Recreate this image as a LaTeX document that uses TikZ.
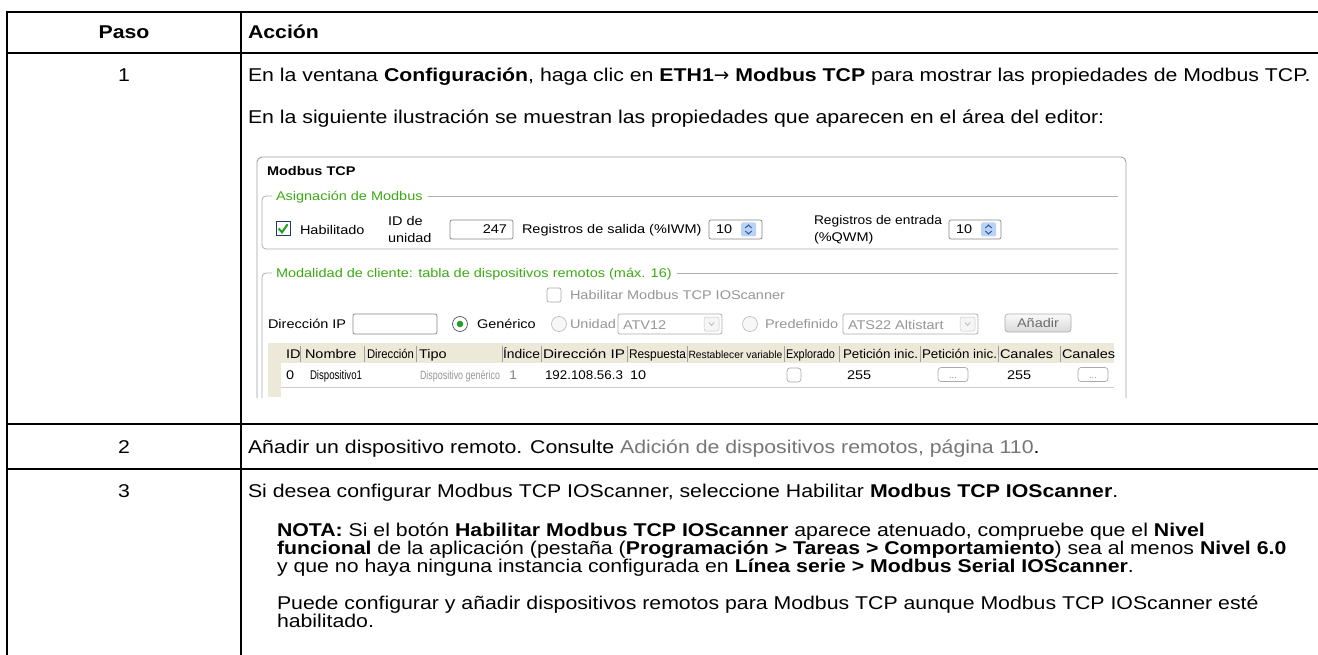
\documentclass[tikz,border=0pt]{standalone}
\usepackage{fontspec}
\setmainfont{Liberation Sans}[FakeStretch=1.15]
\newfontfamily\arrowf{DejaVu Sans}
\usepackage{graphicx}
\definecolor{grn}{RGB}{60,170,20}
\definecolor{chk}{RGB}{40,160,40}
\definecolor{lnk}{RGB}{118,118,118}
\definecolor{dis}{RGB}{150,150,150}
\definecolor{frm}{RGB}{160,160,160}
\definecolor{grp}{RGB}{175,175,175}
\definecolor{beige}{RGB}{236,233,216}
\definecolor{fld}{RGB}{135,135,135}
\definecolor{spinb}{RGB}{185,210,245}
\definecolor{spinf}{RGB}{40,80,160}
\definecolor{cbxb}{RGB}{30,60,110}
\newcommand\bodyf{\fontsize{18.5}{18}\selectfont}
\newcommand\shotf{\fontsize{12.6}{12}\selectfont}
\newcommand\fitw[2]{\resizebox{#1}{\height}{#2}}
\begin{document}
\begin{tikzpicture}[x=1pt,y=-1pt,
  tbl/.style={line width=2.3pt, black},
  body/.style={inner sep=0pt, outer sep=0pt, anchor=base west, font=\bodyf},
  bodyc/.style={inner sep=0pt, outer sep=0pt, anchor=base, font=\bodyf},
  shot/.style={inner sep=0pt, outer sep=0pt, anchor=base west, font=\shotf},
  shotc/.style={inner sep=0pt, outer sep=0pt, anchor=base, font=\shotf},
  grpline/.style={draw=grp, line width=0.8pt},
  fieldbox/.style={draw=fld, line width=0.7pt, fill=white, rounded corners=2pt},
  disbox/.style={draw=dis!80, line width=0.7pt, fill=white, rounded corners=2pt},
  sep/.style={draw=gray!75, line width=0.6pt},
  dd/.style={draw=gray!45, fill=gray!8, line width=0.5pt, rounded corners=2pt},
  spin/.style={fill=spinb, rounded corners=1.5pt},
  spinarr/.style={draw=spinf, line width=0.9pt},
  radiooff/.style={draw=gray!50, fill=gray!6, line width=0.7pt}]
\useasboundingbox (0,0) rectangle (1318,655);
\fill[white] (0,0) rectangle (1318,655);

% ---------- table rules ----------
\draw[tbl] (1318,12) -- (7,12) -- (7,655);
\draw[tbl] (241,12) -- (241,655);
\draw[tbl] (7,53) -- (1318,53);
\draw[tbl] (7,424) -- (1318,424);
\draw[tbl] (7,469) -- (1318,469);

% ---------- header ----------
\node[bodyc, font=\bodyf\bfseries] (hpaso) at (124,38.5) {Paso};
\node[body, font=\bodyf\bfseries] (hacc) at (248,38.5) {Acción};

% ---------- row 1 ----------
\node[bodyc] (n1) at (124,81.5) {1};
\node[body] (r1a) at (248,81.5) {En la ventana \textbf{Configuración}, haga clic en \textbf{ETH1}{\arrowf\fontsize{18.5}{18}\selectfont→} \textbf{Modbus TCP} para mostrar las propiedades de Modbus TCP.};
\node[body] (r1b) at (248,123.5) {En la siguiente ilustración se muestran las propiedades que aparecen en el área del editor:};

% ---------- screenshot ----------
\draw[draw=frm, line width=0.9pt, rounded corners=5pt] (257,398) -- (257,157) -- (1126,157) -- (1126,398);
\node[shot, font=\shotf\bfseries] (mt) at (267,175.5) {Modbus TCP};

% group 1
\node[shot, text=grn] (g1) at (276,200.5) {Asignación de Modbus};
\coordinate (g1e) at ([xshift=5pt]g1.east);
\draw[grpline, rounded corners=4pt] (272,196) -- (262,196) -- (262,249) -- (1118,249);
\draw[grpline] (g1e |- 0,196) -- (1118,196);

\draw[draw=cbxb, line width=1pt, fill=white] (276,221.5) rectangle (290,235.5);
\draw[draw=chk, line width=2.1pt] (278.6,228.5) -- (282,232.3) -- (287.6,224.3);
\node[shot] (hab) at (300,234.5) {Habilitado};
\node[shot] (idde) at (388,225.5) {ID de};
\node[shot] (unid) at (388,242.5) {unidad};
\draw[fieldbox] (450,220) rectangle (513,239);
\node[shot, anchor=base east] (v247) at (507,234) {247};
\node[shot] (regs) at (522,233.5) {Registros de salida (\%IWM)};
\draw[fieldbox] (709,220) rectangle (762,239);
\node[shot] (v10a) at (716,234) {10};
\fill[spin] (741,222.5) rectangle (756,236.5);
\draw[spinarr] (745.3,228) -- (748.5,225) -- (751.7,228);
\draw[spinarr] (745.3,231) -- (748.5,234) -- (751.7,231);
\node[shot] (rege1) at (814,224.5) {\fitw{128pt}{Registros de entrada}};
\node[shot] (rege2) at (814,241.5) {(\%QWM)};
\draw[fieldbox] (949,220) rectangle (1001,239);
\node[shot] (v10b) at (956,234) {10};
\fill[spin] (981,222.5) rectangle (996,236.5);
\draw[spinarr] (985.3,228) -- (988.5,225) -- (991.7,228);
\draw[spinarr] (985.3,231) -- (988.5,234) -- (991.7,231);

% group 2
\node[shot, text=grn] (g2) at (276,277.5) {Modalidad de cliente: tabla de dispositivos remotos (máx. 16)};
\coordinate (g2e) at ([xshift=5pt]g2.east);
\draw[grpline, rounded corners=4pt] (272,273) -- (262,273) -- (262,398);
\draw[grpline] (g2e |- 0,273) -- (1118,273);

\draw[disbox] (547,288) rectangle (561,302);
\node[shot, text=dis] (habio) at (570,299.5) {Habilitar Modbus TCP IOScanner};

\node[shot] (dirip) at (268,328.5) {Dirección IP};
\draw[fieldbox] (353,314) rectangle (437,334);
\draw[draw=gray!80!black, fill=white, line width=0.8pt] (460,324) circle[radius=7.5pt];
\fill[chk] (460,324) circle[radius=3.3pt];
\node[shot] (gen) at (477,328.5) {Genérico};
\draw[radiooff] (559,324) circle[radius=7.5pt];
\node[shot, text=dis] (unidad) at (570,328.5) {Unidad};
\draw[disbox] (618,314) rectangle (722,334);
\node[shot, text=dis] (atv) at (623,329) {ATV12};
\draw[dd] (704,317) rectangle (719,331);
\draw[draw=gray!60, line width=0.7pt] (708.8,322.5) -- (711.5,325.3) -- (714.2,322.5);
\draw[radiooff] (750,324) circle[radius=7.5pt];
\node[shot, text=dis] (pred) at (765,328.5) {Predefinido};
\draw[disbox] (843,314) rectangle (978,334);
\node[shot, text=dis] (ats) at (848,329) {ATS22 Altistart};
\draw[dd] (960,317) rectangle (975,331);
\draw[draw=gray!60, line width=0.7pt] (964.8,322.5) -- (967.5,325.3) -- (970.2,322.5);
\shade[top color=gray!4, bottom color=gray!30, rounded corners=3pt] (1005,314) rectangle (1071,332);
\draw[draw=gray!65, line width=0.7pt, rounded corners=3pt] (1005,314) rectangle (1071,332);
\node[shotc, text=gray!85!black] (anad) at (1038,327.5) {Añadir};

% device table
\fill[beige] (268,343) rectangle (1114,363);
\fill[beige] (268,343) rectangle (281,397);
\draw[draw=gray!40, line width=0.7pt] (281,387.5) -- (1114,387.5);
\node[shot] (hid) at (286,358.5) {ID};
\draw[sep] (300,346) -- (300,362);
\node[shot] (hnom) at (305,358.5) {Nombre};
\draw[sep] (364,346) -- (364,362);
\node[shot] (hdir) at (367,358.5) {\fitw{47pt}{Dirección}};
\draw[sep] (416,346) -- (416,362);
\node[shot] (htip) at (419,358.5) {Tipo};
\draw[sep] (502,346) -- (502,362);
\node[shot] (hind) at (503,358.5) {\fitw{37pt}{Índice}};
\draw[sep] (541,346) -- (541,362);
\node[shot] (hdip) at (543,358.5) {\fitw{82pt}{Dirección IP}};
\draw[sep] (627,346) -- (627,362);
\node[shot] (hres) at (629,358.5) {\fitw{57pt}{Respuesta}};
\draw[sep] (687,346) -- (687,362);
\node[shot, font=\fontsize{10.5}{10}\selectfont] (hrv) at (688.5,358) {\fitw{94pt}{Restablecer variable}};
\draw[sep] (784,346) -- (784,362);
\node[shot] (hexp) at (786,358.5) {\fitw{49pt}{Explorado}};
\draw[sep] (839,346) -- (839,362);
\node[shot] (hpi1) at (843,358.5) {\fitw{75pt}{Petición inic.}};
\draw[sep] (920,346) -- (920,362);
\node[shot] (hpi2) at (922,358.5) {\fitw{75pt}{Petición inic.}};
\draw[sep] (998,346) -- (998,362);
\node[shot] (hcan1) at (1000,358.5) {Canales};
\draw[sep] (1060,346) -- (1060,362);
\node[shot] (hcan2) at (1062,358.5) {Canales};

\node[shot] (d0) at (286,379.5) {0};
\node[shot, font=\fontsize{12.6}{12}\selectfont] (dnom) at (310,379.5) {\fitw{52pt}{Dispositivo1}};
\node[shot, font=\fontsize{12}{12}\selectfont, text=dis] (dtip) at (420,379.5) {\fitw{80pt}{Dispositivo genérico}};
\node[shot, text=dis!90!black] (d1) at (509,379.5) {1};
\node[shot] (dip) at (545,379.5) {\fitw{78pt}{192.108.56.3}};
\node[shot] (d10) at (630,379.5) {10};
\draw[disbox, rounded corners=3pt] (787,368) rectangle (801,382);
\node[shot] (d255a) at (847,379.5) {255};
\draw[disbox, rounded corners=3pt] (938,367.5) rectangle (968,381.5);
\node[shotc, text=gray, font=\fontsize{8}{8}\selectfont] (b1) at (953,378) {...};
\node[shot] (d255b) at (1007,379.5) {255};
\draw[disbox, rounded corners=3pt] (1078,367.5) rectangle (1108,381.5);
\node[shotc, text=gray, font=\fontsize{8}{8}\selectfont] (b2) at (1093,378) {...};

% ---------- row 2 ----------
\node[bodyc] (n2) at (124,453.5) {2};
\node[body] (r2) at (248,453.5) {Añadir un dispositivo remoto. Consulte \textcolor{lnk}{Adición de dispositivos remotos, página 110}.};

% ---------- row 3 ----------
\node[bodyc] (n3) at (124,497.5) {3};
\node[body] (r3a) at (248,497.5) {Si desea configurar Modbus TCP IOScanner, seleccione Habilitar \textbf{Modbus TCP IOScanner}.};
\node[body] (r3b) at (277,536.5) {\textbf{NOTA:} Si el botón \textbf{Habilitar Modbus TCP IOScanner} aparece atenuado, compruebe que el \textbf{Nivel}};
\node[body] (r3c) at (277,554.5) {\textbf{funcional} de la aplicación (pestaña (\textbf{Programación > Tareas > Comportamiento}) sea al menos \textbf{Nivel 6.0}};
\node[body] (r3d) at (277,572.5) {y que no haya ninguna instancia configurada en \textbf{Línea serie > Modbus Serial IOScanner}.};
\node[body] (r3e) at (277,609.5) {Puede configurar y añadir dispositivos remotos para Modbus TCP aunque Modbus TCP IOScanner esté};
\node[body] (r3f) at (277,627.5) {habilitado.};
\end{tikzpicture}
\end{document}
